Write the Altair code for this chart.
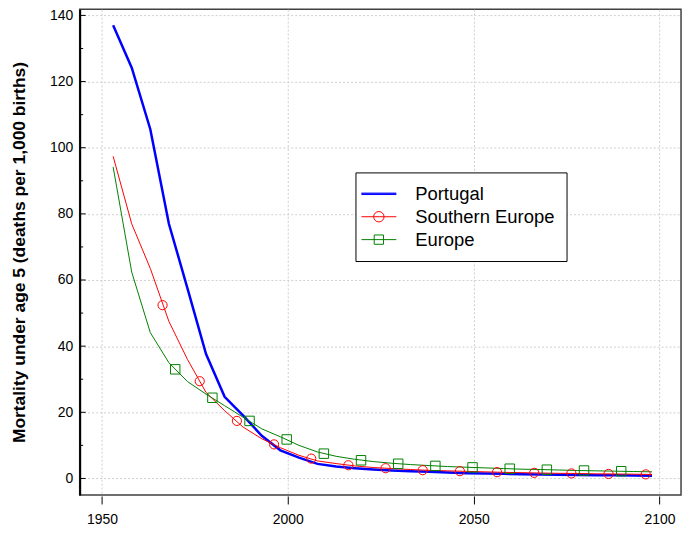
import altair as alt
import pandas as pd

# ---- data ----
years = [1953, 1958, 1963, 1968, 1973, 1978, 1983, 1988, 1993, 1998,
         2003, 2008, 2013, 2018, 2023, 2028, 2033, 2038, 2043, 2048,
         2053, 2058, 2063, 2068, 2073, 2078, 2083, 2088, 2093, 2098]
portugal = [137, 124.2, 105.6, 77, 57.5, 37.6, 24.7, 19, 12.9, 8.5,
            6.3, 4.4, 3.6, 3.1, 2.7, 2.4, 2.2, 2.0, 1.8, 1.6,
            1.5, 1.4, 1.3, 1.2, 1.1, 1.05, 1.0, 0.95, 0.9, 0.85]
southern = [97.4, 77.0, 63.5, 47.5, 36, 26, 20.5, 15.5, 12, 9.3,
            7.0, 5.3, 4.5, 3.8, 3.3, 3.0, 2.7, 2.45, 2.3, 2.15,
            2.0, 1.85, 1.75, 1.65, 1.55, 1.5, 1.4, 1.35, 1.3, 1.2]
europe = [94.2, 62.4, 44.1, 35, 29.3, 25.5, 22, 18.5, 15, 12.6,
          10, 8, 6.7, 5.8, 5.1, 4.6, 4.2, 3.9, 3.6, 3.4,
          3.2, 3.0, 2.8, 2.7, 2.55, 2.4, 2.3, 2.2, 2.1, 2.0]

red_marker_years = [1966.3, 1976.3, 1986.3, 1996.3, 2006.3, 2016.3, 2026.3,
                    2036.3, 2046.3, 2056.3, 2066.3, 2076.3, 2086.3, 2096.3]
red_marker_values = [52.4, 29.4, 17.4, 10.3, 6.0, 4.0, 3.1,
                     2.5, 2.2, 1.9, 1.7, 1.52, 1.37, 1.24]
green_marker_years = [1969.7, 1979.7, 1989.7, 1999.7, 2009.7, 2019.7, 2029.7,
                      2039.7, 2049.7, 2059.7, 2069.7, 2079.7, 2089.7]
green_marker_values = [33.0, 24.4, 17.4, 11.8, 7.5, 5.5, 4.45,
                       3.8, 3.35, 2.95, 2.65, 2.4, 2.2]

series = ["Portugal", "Southern Europe", "Europe"]
colors = ["#0000ff", "#ff0000", "#008000"]
legend_symbols = [
    "M-1.944,-0.08H1.944M-1.944,0H1.944M-1.944,0.08H1.944",
    "M-1.944,0H1.944M0.58,0A0.58,0.58 0 1,1 -0.58,0A0.58,0.58 0 1,1 0.58,0",
    "M-1.944,0H1.944M-0.52,-0.52H0.52V0.52H-0.52Z",
]
y_ticks = [0, 20, 40, 60, 80, 100, 120, 140]
y_minor_ticks = [10, 30, 50, 70, 90, 110, 130]
x_ticks = [1950, 2000, 2050, 2100]
y_title = "Mortality under age 5 (deaths per 1,000 births)"

# ---- tables ----
rows = []
for name, vals in zip(series, [portugal, southern, europe]):
    for yr, v in zip(years, vals):
        rows.append({"year": yr, "value": v, "series": name})
lines_df = pd.DataFrame(rows)
red_df = pd.DataFrame({"year": red_marker_years, "value": red_marker_values})
green_df = pd.DataFrame({"year": green_marker_years, "value": green_marker_values})
major_df = pd.DataFrame({"value": y_ticks})
minor_df = pd.DataFrame({"value": y_minor_ticks})

FONT = "Liberation Sans"
xscale = alt.Scale(domain=[1944, 2105.8], nice=False, zero=False)
yscale = alt.Scale(domain=[-5, 141.9], nice=False, zero=False)
color_scale = alt.Scale(domain=series, range=colors)

x_enc = alt.X("year:Q", scale=xscale, axis=alt.Axis(
    values=x_ticks, format="d", title=None, grid=True, gridDash=[2, 2],
    gridColor="#cfcfcf", domain=False, tickSize=8, tickColor="black",
    labelFontSize=14, labelFont=FONT, labelColor="black", labelPadding=9, offset=1))
y_enc = alt.Y("value:Q", scale=yscale, axis=alt.Axis(
    values=y_ticks, title=y_title, titleFontSize=17.5, titleFont=FONT,
    titleFontWeight="bold", titleColor="black", titleX=-60, titleY=244,
    titleAngle=-90, titleAlign="center", titleBaseline="middle",
    labelFontSize=14, labelFont=FONT, labelColor="black", labelPadding=7,
    ticks=False, domainColor="black", domainWidth=2, grid=True,
    gridDash=[2, 2], gridColor="#cfcfcf"))

# legend-only layer (first, so its legend is the one kept)
legend_layer = alt.Chart(lines_df).transform_filter("datum.year < 0").mark_point(
    filled=False, opacity=1, size=324, strokeWidth=1).encode(
    x=x_enc, y=y_enc,
    color=alt.Color("series:N", scale=color_scale, legend=alt.Legend(
        title=None, orient="none", legendX=277, legendY=164, padding=12,
        strokeColor="black", fillColor="white", labelFontSize=18.5,
        labelFont=FONT, labelColor="black", labelOffset=27, symbolOffset=2,
        rowPadding=4, symbolSize=324, symbolStrokeWidth=1)),
    shape=alt.Shape("series:N", scale=alt.Scale(domain=series, range=legend_symbols)),
)

line_x = alt.X("year:Q", scale=xscale)
line_y = alt.Y("value:Q", scale=yscale)
line_color = alt.Color("series:N", scale=color_scale, legend=None)

line_pt = alt.Chart(lines_df).transform_filter(alt.datum.series == "Portugal").mark_line(
    strokeWidth=2.5).encode(x=line_x, y=line_y, color=line_color)
line_se = alt.Chart(lines_df).transform_filter(alt.datum.series == "Southern Europe").mark_line(
    strokeWidth=1).encode(x=line_x, y=line_y, color=line_color)
line_eu = alt.Chart(lines_df).transform_filter(alt.datum.series == "Europe").mark_line(
    strokeWidth=1).encode(x=line_x, y=line_y, color=line_color)

red_pts = alt.Chart(red_df).mark_point(shape="circle", filled=False, size=85, opacity=1,
                                         strokeWidth=1, color="#ff0000").encode(
    x=line_x, y=line_y)
green_pts = alt.Chart(green_df).mark_point(shape="square", filled=False, size=90, opacity=1,
                                           strokeWidth=1, color="#008000").encode(
    x=line_x, y=line_y)

major_ticks = alt.Chart(major_df).mark_rule(color="black", strokeWidth=1).encode(
    y=alt.Y("value:Q", scale=yscale), x=alt.value(0), x2=alt.value(6))
minor_ticks = alt.Chart(minor_df).mark_rule(color="black", strokeWidth=1).encode(
    y=alt.Y("value:Q", scale=yscale), x=alt.value(0), x2=alt.value(3.5))

chart = alt.layer(legend_layer, line_pt, line_se, line_eu, red_pts, green_pts,
                  major_ticks, minor_ticks).properties(
    width=604, height=488,
    padding={"left": 72, "top": 0, "right": 8, "bottom": 30},
    autosize=alt.AutoSizeParams(type="none"),
    background="white",
).configure_view(stroke="#404040", strokeWidth=1.5)

chart.save("out.html", embed_options={"renderer": "svg", "actions": False})
